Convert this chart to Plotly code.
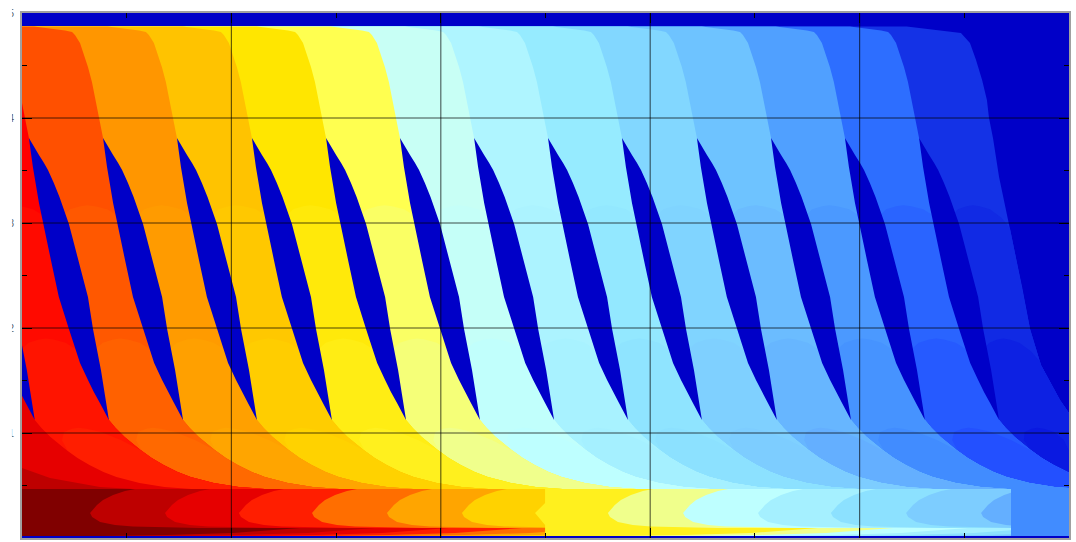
import numpy as np
import plotly.graph_objects as go

# axes
x_range = [0, 5]
y_range = [0, 5]
grid_values = [1, 2, 3, 4]
y_tick_values = [0, 1, 2, 3, 4, 5]
y_tick_labels = ["0", "1", "2", "3", "4", "5"]

# band boundary: height levels and horizontal offset from each lens tip
curve_y = [4.871, 4.848, 4.833, 4.819, 4.790, 4.714, 4.581, 4.486, 4.343, 4.200, 4.000, 3.810, 3.438, 2.990,
           2.390, 1.990, 1.667, 1.286, 1.124, 1.048, 0.962, 0.838, 0.762, 0.695, 0.629, 0.581, 0.524, 0.486, 0.457]
curve_dx = [-0.330, -0.229, -0.181, -0.148, -0.134, -0.110, -0.086, -0.072, -0.053, -0.038, -0.019, 0.0, 0.062, 0.129,
            0.196, 0.248, 0.287, 0.349, 0.382, 0.414, 0.457, 0.533, 0.586, 0.643, 0.710, 0.772, 0.882, 1.001, 1.192]
lens_tip_x = [-0.321, 0.033, 0.387, 0.740, 1.098, 1.452, 1.805, 2.159, 2.512, 2.865, 3.223, 3.577, 3.930, 4.284]

# the last boundary has no lens
edge_x = [4.225, 4.374, 4.484, 4.527, 4.556, 4.585, 4.608, 4.618, 4.637, 4.666, 4.714, 4.776, 4.814, 4.866, 4.905, 4.957, 5.0]
edge_y = [4.871, 4.838, 4.810, 4.714, 4.552, 4.362, 4.171, 4.000, 3.810, 3.438, 2.990, 2.390, 1.990, 1.648, 1.505, 1.314, 1.190]

# dark lens outline
lens_dx = [0.0, 0.024, 0.048, 0.072, 0.091, 0.119, 0.146, 0.191, 0.239, 0.282, 0.306, 0.344, 0.363, 0.382,
           0.339, 0.310, 0.282, 0.244, 0.191, 0.143, 0.105, 0.067, 0.048, 0.019]
lens_y = [3.810, 3.724, 3.648, 3.571, 3.505, 3.381, 3.248, 2.990, 2.619, 2.295, 1.990, 1.600, 1.362, 1.124,
          1.286, 1.390, 1.505, 1.667, 1.990, 2.295, 2.648, 2.990, 3.190, 3.533]

# band colours: top and lower tone
band_top = ["#ff0000", "#ff5000", "#ff9600", "#ffc300", "#ffe600", "#ffff50", "#c8fff5",
            "#aff5ff", "#96ebff", "#82d7ff", "#6ec3ff", "#50a0ff", "#2d6eff", "#1432e6"]
band_low = ["#ff1e00", "#ff6900", "#ffa500", "#ffd200", "#fff01e", "#f0ff8c", "#beffff",
            "#a5f0ff", "#8ce1ff", "#7dcdff", "#64afff", "#418cff", "#2350ff", "#0a19e1"]
hill_base_y = [3.17, 1.90, 1.05]
hill_frac = [0.0, 0.1, 0.25, 0.4, 0.5, 0.6, 0.75, 0.9, 1.0]
hill_drop = [0.22, 0.12, 0.04, 0.01, 0.0, 0.01, 0.04, 0.12, 0.22]

background = "#0000c8"
corner_red = "#e60000"
corner_dark = "#be0000"
corner_x = [0.0, 0.134, 0.372, 0.530, 0.0]
corner_y = [0.667, 0.571, 0.486, 0.467, 0.467]

# bottom strip
strip_top = 0.467
strip_bottom = 0.019
strip_base = "#800000"
fish_nose_x = [0.325, 0.683, 1.036, 1.385, 1.743, 2.101, 2.798, 3.157, 3.515, 3.863, 4.222, 4.580]
fish_color = ["#be0000", "#e60000", "#ff1e00", "#ff6e00", "#ffa500", "#ffd200",
              "#f0ff8c", "#beffff", "#a5f0ff", "#8ce1ff", "#7dcdff", "#64afff"]
fish_dx = [0.215, 0.167, 0.110, 0.062, 0.033, 0.010, 0.0, 0.010, 0.048, 0.119, 0.205, 0.525, 0.845, 1.003,
           1.132, 1.003, 0.683, 0.368, 0.048]
fish_y = [0.467, 0.448, 0.410, 0.362, 0.314, 0.267, 0.238, 0.200, 0.152, 0.124, 0.110, 0.095, 0.095, 0.114,
          0.143, 0.095, 0.048, 0.029, 0.019]
step_x = [2.498, 2.498, 2.450, 2.498, 2.498]
step_y = [0.467, 0.333, 0.238, 0.124, 0.019]
step_color = "#fff01e"
end_x = 4.723
end_color = "#418cff"

fig = go.Figure()


def poly(xs, ys, color):
    fig.add_trace(go.Scatter(x=list(xs), y=list(ys), mode="lines", fill="toself", fillcolor=color,
                             line=dict(width=0, color=color), hoverinfo="skip", showlegend=False))


def mix(a, b, t):
    ca = [int(a[i:i + 2], 16) for i in (1, 3, 5)]
    cb = [int(b[i:i + 2], 16) for i in (1, 3, 5)]
    return "rgb(%d,%d,%d)" % tuple(round(p + (q - p) * t) for p, q in zip(ca, cb))


cy = np.array(curve_y)
cdx = np.array(curve_dx)
tips = np.array(lens_tip_x)
bottom_y = curve_y[-1]


def curve_at(j, y):
    if j == len(tips):
        return np.interp(y, edge_y[::-1], edge_x[::-1])
    return tips[j] + np.interp(y, cy[::-1], cdx[::-1])


def right_curve(j):
    if j == len(tips):
        return np.array(edge_x), np.array(edge_y)
    return tips[j] + cdx, cy


def add_hill(j, base, color):
    # tone change inside band j, between boundary j and boundary j+1
    hx, hy = [], []
    for f, d in zip(hill_frac, hill_drop):
        y = base - d
        hx.append((1 - f) * curve_at(j, y) + f * curve_at(j + 1, y))
        hy.append(y)
    rx, ry = right_curve(j + 1)
    keep = ry < hy[-1]
    xs = hx + list(rx[keep]) + [5.0, 0.0, 0.0]
    ys = hy + list(ry[keep]) + [bottom_y, bottom_y, hy[0]]
    poly(xs, ys, color)


# bands, painted from right to left
for j in range(13, -1, -1):
    rx, ry = right_curve(j + 1)
    poly(list(rx) + [5.0, 0.0, 0.0], list(ry) + [bottom_y, bottom_y, ry[0]], band_top[j])
    for n, base in enumerate(hill_base_y):
        add_hill(j, base, mix(band_top[j], band_low[j], (n + 1) / len(hill_base_y)))

# corner at lower left
x0, y0 = right_curve(0)
poly(list(x0) + [0.0, 0.0], list(y0) + [bottom_y, y0[0]], corner_red)
poly(corner_x, corner_y, corner_dark)

# lenses
for tip in lens_tip_x:
    poly([tip + d for d in lens_dx], lens_y, background)

# bottom strip
poly([0, 5, 5, 0], [strip_top, strip_top, strip_bottom, strip_bottom], strip_base)
for nose, color in zip(fish_nose_x[:6], fish_color[:6]):
    poly([nose + d for d in fish_dx] + [5, 5], fish_y + [strip_bottom, strip_top], color)
poly(step_x + [5, 5], step_y + [strip_bottom, strip_top], step_color)
for nose, color in zip(fish_nose_x[6:], fish_color[6:]):
    poly([nose + d for d in fish_dx] + [5, 5], fish_y + [strip_bottom, strip_top], color)
poly([end_x, 5, 5, end_x], [strip_top, strip_top, strip_bottom, strip_bottom], end_color)

shapes = []
for v in grid_values:
    shapes.append(dict(type="line", xref="x", yref="paper", x0=v, x1=v, y0=0, y1=1, layer="above",
                       line=dict(color="rgba(0,0,0,0.6)", width=1.2)))
    shapes.append(dict(type="line", xref="paper", yref="y", x0=0, x1=1, y0=v, y1=v, layer="above",
                       line=dict(color="rgba(0,0,0,0.7)", width=1)))
# the page edge hides all but the rim of the y labels
shapes.append(dict(type="rect", xref="paper", yref="paper", x0=-0.03, x1=-0.0096, y0=-0.02, y1=1.02,
                   layer="above", line=dict(width=0), fillcolor="white"))

axis_common = dict(showgrid=False, zeroline=False, showline=True, linecolor="#a0a0a0", linewidth=2,
                   mirror="ticks", ticks="inside", ticklen=10, tickcolor="black", tickwidth=1,
                   layer="above traces", automargin=False,
                   minor=dict(ticks="inside", ticklen=5, dtick=0.5, tickcolor="black", tickwidth=1, showgrid=False),
                   tickfont=dict(family="Liberation Sans", size=10, color="#606060"))

fig.update_layout(width=1076, height=542, margin=dict(l=22, r=7, t=13, b=4, pad=0), autosize=False,
                  paper_bgcolor="white", plot_bgcolor=background, showlegend=False, shapes=shapes,
                  xaxis=dict(range=x_range, dtick=1, tick0=0, showticklabels=False, **axis_common),
                  yaxis=dict(range=y_range, tickmode="array", tickvals=y_tick_values,
                             ticktext=y_tick_labels, ticklabelstandoff=4, **axis_common))
fig.write_html("out.html", config=dict(displayModeBar=False), post_script="document.body.style.margin='0';")
